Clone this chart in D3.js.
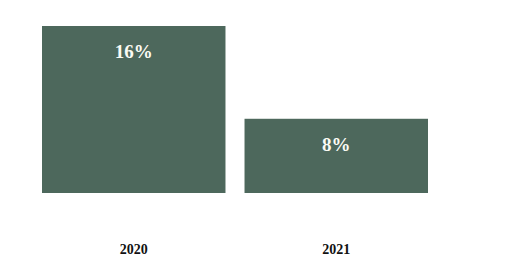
<!DOCTYPE html>
<html>
<head>
<meta charset="utf-8">
<script src="https://cdn.jsdelivr.net/npm/d3@7"></script>
<style>
  body { margin: 0; background: #fff; }
  svg { display: block; }
</style>
</head>
<body>
<div id="chart"></div>
<script>
var years = ["2020", "2021"];
var shares = [16, 8];
var labels = ["16%", "8%"];

var width = 526,
    height = 272;

var svg = d3.select("#chart").append("svg")
    .attr("width", width)
    .attr("height", height);

var x = d3.scaleBand()
    .domain(years)
    .range([42, 428])
    .paddingInner(0.094)
    .paddingOuter(0);

// baseline sits a little above zero in the picture
var y = d3.scaleLinear()
    .domain([1.6, 16])
    .range([193, 26]);

svg.selectAll("rect.bar")
    .data(years)
    .enter().append("rect")
    .attr("class", "bar")
    .attr("x", function(d) { return x(d); })
    .attr("y", function(d, i) { return y(shares[i]); })
    .attr("width", x.bandwidth())
    .attr("height", function(d, i) { return y.range()[0] - y(shares[i]); })
    .attr("fill", "#4d685c");

svg.selectAll("text.val")
    .data(years)
    .enter().append("text")
    .attr("class", "val")
    .attr("x", function(d) { return x(d) + x.bandwidth() / 2; })
    .attr("y", function(d, i) { return y(shares[i]) + 32; })
    .attr("text-anchor", "middle")
    .attr("font-family", "Liberation Serif, serif")
    .attr("font-weight", "bold")
    .attr("font-size", "19px")
    .attr("fill", "#fbfbf4")
    .text(function(d, i) { return labels[i]; });

var axis = svg.append("g")
    .attr("transform", "translate(0,233)")
    .call(d3.axisBottom(x).tickSize(0).tickPadding(11));
axis.select(".domain").remove();
axis.selectAll("text")
    .attr("font-family", "Liberation Serif, serif")
    .attr("font-weight", "bold")
    .attr("font-size", "14px")
    .attr("fill", "#111");
</script>
</body>
</html>
